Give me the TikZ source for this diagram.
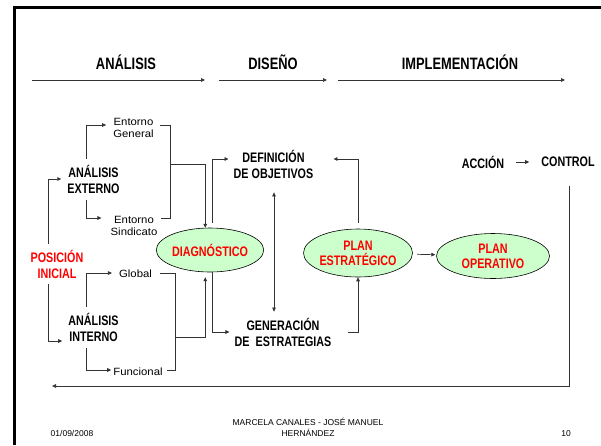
\documentclass[tikz,border=0pt]{standalone}
\usepackage{fontspec}
\setmainfont{Liberation Sans}[FakeStretch=0.78]
\newfontfamily\footfont{Liberation Sans}
\usetikzlibrary{arrows.meta,shapes.geometric}
\definecolor{lgreen}{HTML}{CCFFCC}
\definecolor{lred}{HTML}{FF0000}
\begin{document}
\begin{tikzpicture}[x=1pt,y=-1pt,
  lbl/.style={font=\fontsize{13.8}{16}\selectfont\bfseries, align=center, inner xsep=0pt, inner ysep=6pt},
  hdr/.style={font=\fontsize{16.5}{19}\selectfont\bfseries, inner sep=0pt},
  sm/.style={font=\fontsize{10.5}{12.5}\selectfont\addfontfeature{FakeStretch=1.08}, align=center, inner sep=0pt},
  ell/.style={ellipse, draw, fill=lgreen, line width=0.6pt, text=lred, align=center, inner sep=0pt,
    font=\fontsize{13.8}{15}\selectfont\bfseries},
  ln/.style={line width=0.7pt, draw=black!80},
  arr/.style={ln, -{Triangle[length=4pt,width=3.6pt]}},
  foot/.style={font=\footfont\fontsize{8.5}{11}\selectfont, align=center, inner sep=0pt}]
\useasboundingbox (0,0) rectangle (601,445);
\fill[white] (0,0) rectangle (601,445);
% frame
\draw[line width=3.3pt, line join=miter] (14.3,445) -- (14.3,7.7) -- (601,7.7);
% headers
\node[hdr] (h1) at (126,62) {ANÁLISIS};
\node[hdr] (h2) at (273,62) {DISEÑO};
\node[hdr] (h3) at (460,62) {IMPLEMENTACIÓN};
\coordinate (a1s) at (32,80);  \coordinate (a1e) at (205,80);
\coordinate (a2s) at (219,80); \coordinate (a2e) at (327,80);
\coordinate (a3s) at (338,80); \coordinate (a3e) at (565,80);
\draw[arr] (a1s) -- (a1e);
\draw[arr] (a2s) -- (a2e);
\draw[arr] (a3s) -- (a3e);
% small labels
\node[sm] (eg) at (133.5,128) {Entorno\\General};
\node[sm] (es) at (134,226) {Entorno\\Sindicato};
\node[sm] (gl) at (135.5,274) {Global};
\node[sm] (fu) at (138,372) {Funcional};
% bold labels
\node[lbl] (ae) at (93.5,179.5) {ANÁLISIS\\EXTERNO};
\node[lbl] (ai) at (93.5,327.5) {ANÁLISIS\\INTERNO};
\node[lbl, text=lred] (pi) at (57,264) {POSICIÓN\\INICIAL};
\node[lbl] (def) at (273.5,164) {DEFINICIÓN\\DE OBJETIVOS};
\node[lbl] (gen) at (283,332) {GENERACIÓN\\DE\ \ ESTRATEGIAS};
\node[lbl] (acc) at (483,162) {ACCIÓN};
\node[lbl] (ctl) at (568,162) {CONTROL};
% ellipses
\node[ell, minimum width=97pt, minimum height=44pt] (diag) at (210,250) {DIAGNÓSTICO};
\node[ell, minimum width=109pt, minimum height=48pt] (pe) at (358,253) {PLAN\\ESTRATÉGICO};
\node[ell, minimum width=113pt, minimum height=45pt] (po) at (493,256) {PLAN\\OPERATIVO};
% external analysis
\draw[arr, shorten >=7pt] (ae.north -| 86,0) |- (eg.west |- 0,125);
\draw[arr, shorten >=9pt] (ae.south -| 86,0) |- (es.west |- 0,218);
\draw[ln, shorten <=6pt, shorten >=3pt] (eg.east |- 0,125) -| (170,218) -- (es.east |- 0,218);
\draw[arr] (170,164) -| (diag.102);
% initial position
\draw[arr, shorten >=6pt] (pi.north -| 48,0) |- (ae.west |- 0,179);
\draw[arr, shorten >=6pt] (pi.south -| 48,0) |- (ai.west |- 0,341);
% internal analysis
\draw[arr, shorten >=7pt] (ai.north -| 86,0) |- (gl.west |- 0,273);
\draw[arr, shorten >=2pt] (ai.south -| 86,0) |- (fu.west |- 0,370);
\draw[ln, shorten <=8pt, shorten >=4pt] (gl.east |- 0,273) -| (175,370) -- (fu.east |- 0,370);
\draw[arr, shorten >=5pt] (175,337) -| (diag.258);
% design
\draw[arr, shorten <=5pt, shorten >=5pt] (diag.84) |- (def.west |- 0,159);
\draw[arr, shorten >=5pt] (diag.276) |- (gen.west |- 0,332);
\draw[ln, {Triangle[length=4pt,width=3.6pt]}-{Triangle[length=4pt,width=3.6pt]}, shorten <=8pt] (def.south -| 274,0) -- (gen.north -| 274,0);
\draw[arr, shorten <=6pt, shorten >=20pt] (pe.north) |- (def.east |- 0,159);
\draw[arr, shorten <=16pt] (gen.east |- 0,332) -| (pe.south);
\draw[arr, shorten <=4.5pt, shorten >=1pt] (pe) -- (po);
% implementation
\draw[arr, shorten <=12pt, shorten >=12pt] (acc) -- (ctl);
\coordinate (ret) at (52,386);
\draw[arr, shorten <=13pt] (ctl.south -| 569,0) |- (ret);
% footer
\node[foot] (date) at (72,433.5) {01/09/2008};
\node[foot] (auth) at (308,427.5) {MARCELA CANALES - JOSÉ MANUEL\\HERNÁNDEZ};
\node[foot] (num) at (566,433.5) {10};
\end{tikzpicture}
\end{document}
